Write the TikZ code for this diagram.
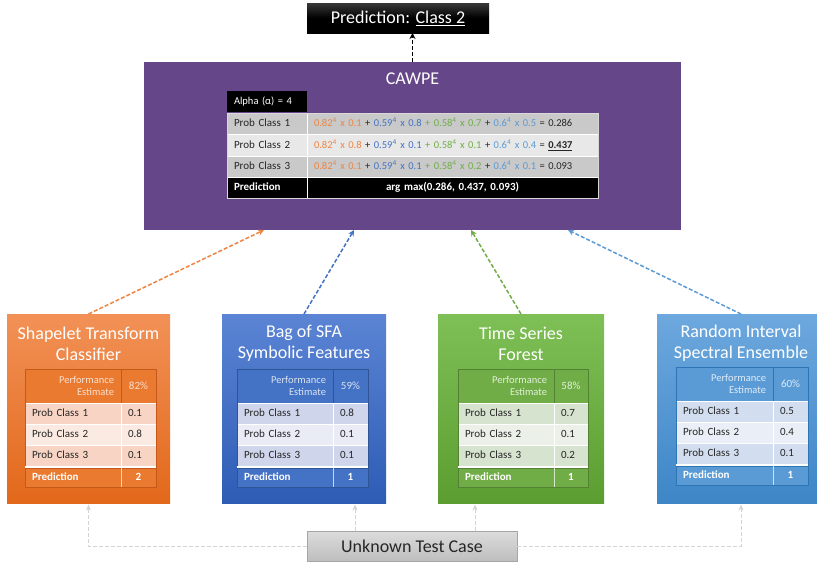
\documentclass[tikz,border=0pt]{standalone}
\usepackage{fontspec}
\setmainfont{Carlito}
\usetikzlibrary{arrows.meta}
\definecolor{txt}{HTML}{262626}
% orange
\definecolor{oA}{HTML}{F29157}
\definecolor{oB}{HTML}{E2681A}
\definecolor{oH}{HTML}{EA7A30}
\definecolor{oD}{HTML}{C4591A}
\definecolor{oT}{HTML}{FBE0CF}
\definecolor{oR}{HTML}{F8D4C4}
\definecolor{oS}{HTML}{FBEAE2}
\definecolor{oL}{HTML}{EF8440}
% blue
\definecolor{bA}{HTML}{5B84D4}
\definecolor{bB}{HTML}{2E5CB5}
\definecolor{bH}{HTML}{4472C4}
\definecolor{bD}{HTML}{2F5597}
\definecolor{bT}{HTML}{DAE3F3}
\definecolor{bR}{HTML}{CFD5EA}
\definecolor{bS}{HTML}{E9EBF5}
\definecolor{bL}{HTML}{4472C4}
% green
\definecolor{gA}{HTML}{7EC056}
\definecolor{gB}{HTML}{5B9D30}
\definecolor{gH}{HTML}{70AD47}
\definecolor{gD}{HTML}{548235}
\definecolor{gT}{HTML}{E2F0D9}
\definecolor{gR}{HTML}{D5E3CF}
\definecolor{gS}{HTML}{EBF1E9}
\definecolor{gL}{HTML}{70AD47}
% light blue
\definecolor{lA}{HTML}{6DA8DE}
\definecolor{lB}{HTML}{3E86C7}
\definecolor{lH}{HTML}{5B9BD5}
\definecolor{lD}{HTML}{2E75B6}
\definecolor{lT}{HTML}{DEEBF7}
\definecolor{lR}{HTML}{D2DEEF}
\definecolor{lS}{HTML}{EAEFF7}
\definecolor{lL}{HTML}{5B9BD5}
% others
\definecolor{purp}{HTML}{654689}
\definecolor{cwR}{HTML}{C9C9C9}
\definecolor{cwS}{HTML}{E8E8E8}
\definecolor{tcA}{HTML}{DCDCDC}
\definecolor{tcB}{HTML}{BEBEBE}
\definecolor{tcD}{HTML}{A6A6A6}
\definecolor{conn}{HTML}{D4D4D4}

\newcommand\fo[1]{{\color{oL}#1}}
\newcommand\fb[1]{{\color{bL}#1}}
\newcommand\fg[1]{{\color{gL}#1}}
\newcommand\fl[1]{{\color{lL}#1}}
\newcommand\sq{\textsuperscript{4}}

\newcommand\cellat[7]{%
  \pgfmathsetmacro\cw{#4-#2}%
  \pgfmathsetmacro\ch{#5-#3}%
  \pgfmathsetmacro\tw{#4-#2-14}%
  \node[cellbase,minimum width=\cw pt,minimum height=\ch pt,text width=\tw pt,#6] (#1) at (#2,#3) {#7};%
}

\newcommand\clfbox[6]{% name, colour prefix, x0, x1, title x, title
  \pgfmathsetmacro\bw{#4-#3}%
  \node[clfstyle,top color=#2A,bottom color=#2B,minimum width=\bw pt] (#1) at (#3,314) {};%
  \node[titletext] (#1title) at (#5,343.5) {#6};%
}

\newcommand\clftable[6]{% name, colour prefix, left, divider, right, top
  \pgfmathsetmacro\yA{#6+34}\pgfmathsetmacro\yB{#6+55}\pgfmathsetmacro\yC{#6+76}%
  \pgfmathsetmacro\yD{#6+97}\pgfmathsetmacro\yE{#6+99}\pgfmathsetmacro\yF{#6+118}%
  \cellat{#1h1}{#3}{#6}{#4}{\yA}{fill=#2H,draw=#2D,text=#2T,align=right,font=\fontsize{10.5}{12}\selectfont}{Performance\\Estimate}%
  \cellat{#1h2}{#4}{#6}{#5}{\yA}{fill=#2H,draw=#2D,text=#2T,align=center,one,inner xsep=2pt}{\vPerf}%
  \cellat{#1a1}{#3}{\yA}{#4}{\yB}{fill=#2R,draw=white,align=left,one}{Prob Class 1}%
  \cellat{#1a2}{#4}{\yA}{#5}{\yB}{fill=#2R,draw=white,align=left,one}{\vA}%
  \cellat{#1b1}{#3}{\yB}{#4}{\yC}{fill=#2S,draw=white,align=left,one}{Prob Class 2}%
  \cellat{#1b2}{#4}{\yB}{#5}{\yC}{fill=#2S,draw=white,align=left,one}{\vB}%
  \cellat{#1c1}{#3}{\yC}{#4}{\yD}{fill=#2R,draw=white,align=left,one}{Prob Class 3}%
  \cellat{#1c2}{#4}{\yC}{#5}{\yD}{fill=#2R,draw=white,align=left,one}{\vC}%
  \cellat{#1p1}{#3}{\yE}{#4}{\yF}{fill=#2H,draw=#2D,text=white,align=left,one,font=\fontsize{11}{13}\selectfont\bfseries}{Prediction}%
  \cellat{#1p2}{#4}{\yE}{#5}{\yF}{fill=#2H,draw=#2D,text=white,align=center,one,font=\fontsize{11}{13}\selectfont\bfseries}{\vPred}%
  \draw[#2D,line width=0.7pt] (#1h1.north west) rectangle (#1p2.south east);%
  \draw[white,line width=2.2pt] ([yshift=-1pt]#1c1.south west) -- ([yshift=-1pt]#1c2.south east);%
  \draw[white!70!#2H,line width=0.8pt] (#1p1.north east) -- (#1p1.south east);%
}

\begin{document}
\begin{tikzpicture}[x=1pt,y=-1pt,
  cellbase/.style={anchor=north west,inner xsep=7pt,inner ysep=0pt,outer sep=0pt,
    font=\fontsize{11}{13}\selectfont,text=txt},
  one/.style={text height=8.2pt,text depth=1.6pt},
  formula/.style={font=\fontsize{10.5}{13}\selectfont},
  clfstyle/.style={anchor=north west,minimum height=189pt,inner sep=0pt,outer sep=0pt},
  titletext/.style={text=white,font=\fontsize{18}{21}\selectfont,align=center,inner sep=0pt},
  upconn/.style={line width=1.5pt,dash pattern=on 4pt off 2pt,-{Stealth[length=6pt,width=6pt]}},
  botconn/.style={conn,line width=1pt,dash pattern=on 4pt off 2pt,-{Stealth[length=6pt,width=5pt]},shorten >=1.5pt},
]
\useasboundingbox (0,0) rectangle (817,563);
\clip (0,0) rectangle (817,563);
\fill[white] (0,0) rectangle (817,563);

% prediction box
\node[anchor=north west,minimum width=182pt,minimum height=30pt,inner sep=0pt,outer sep=0pt,
  top color=black!78,bottom color=black,middle color=black,
  text=white,font=\fontsize{18}{21}\selectfont] (pred) at (307,3) {Prediction: \underline{Class 2}};

% CAWPE box
\node[anchor=north west,minimum width=537pt,minimum height=168pt,inner sep=0pt,outer sep=0pt,fill=purp] (cawpe) at (144,62) {};
\node[titletext] (cawpetitle) at (412.5,79) {CAWPE};

% CAWPE table
\cellat{alpha}{227}{91}{307}{112}{fill=black,text=white,align=left,one,font=\fontsize{10.5}{13}\selectfont}{Alpha (α) = 4}
\cellat{r1a}{227}{113}{307}{134}{fill=cwR,draw=white,align=left,one}{Prob Class 1}
\cellat{r1b}{307}{113}{598}{134}{fill=cwR,draw=white,align=left,one,formula}{\fo{0.82\sq{} x 0.1} + \fb{0.59\sq{} x 0.8} \fg{+ 0.58\sq{} x 0.7} + \fl{0.6\sq{} x 0.5} = 0.286}
\cellat{r2a}{227}{134}{307}{156}{fill=cwS,draw=white,align=left,one}{Prob Class 2}
\cellat{r2b}{307}{134}{598}{156}{fill=cwS,draw=white,align=left,one,formula}{\fo{0.82\sq{} x 0.8} + \fb{0.59\sq{} x 0.1} \fg{+ 0.58\sq{} x 0.1} + \fl{0.6\sq{} x 0.4} = \underline{\textbf{0.437}}}
\cellat{r3a}{227}{156}{307}{177}{fill=cwR,draw=white,align=left,one}{Prob Class 3}
\cellat{r3b}{307}{156}{598}{177}{fill=cwR,draw=white,align=left,one,formula}{\fo{0.82\sq{} x 0.1} + \fb{0.59\sq{} x 0.1} \fg{+ 0.58\sq{} x 0.2} + \fl{0.6\sq{} x 0.1} = 0.093}
\cellat{r4a}{227}{177}{307}{198}{fill=black,draw=white,text=white,align=left,one,font=\fontsize{11}{13}\selectfont\bfseries}{Prediction}
\cellat{r4b}{307}{177}{598}{198}{fill=black,draw=white,text=white,align=center,one,font=\fontsize{11}{13}\selectfont\bfseries}{arg max(0.286, 0.437, 0.093)}
\draw[black!15,line width=0.6pt] (r1a.north west) rectangle (r4b.south east);

% classifier boxes
\clfbox{stc}{o}{7}{170}{88.5}{Shapelet Transform\\Classifier}
\clfbox{boss}{b}{222}{386}{304}{Bag of SFA\\Symbolic Features}
\clfbox{tsf}{g}{438}{604}{521}{Time Series\\Forest}
\clfbox{rise}{l}{657}{825}{741}{Random Interval\\Spectral Ensemble}

\def\vPerf{82\%}\def\vA{0.1}\def\vB{0.8}\def\vC{0.1}\def\vPred{2}
\clftable{stc}{o}{25}{121}{156}{369}
\def\vPerf{59\%}\def\vA{0.8}\def\vB{0.1}\def\vC{0.1}\def\vPred{1}
\clftable{boss}{b}{237}{333}{368}{369}
\def\vPerf{58\%}\def\vA{0.7}\def\vB{0.1}\def\vC{0.2}\def\vPred{1}
\clftable{tsf}{g}{458}{554}{588}{369}
\def\vPerf{60\%}\def\vA{0.5}\def\vB{0.4}\def\vC{0.1}\def\vPred{1}
\clftable{rise}{l}{676}{773}{808}{367}

% unknown test case
\node[anchor=north west,minimum width=210pt,minimum height=30pt,inner sep=0pt,outer sep=0pt,
  top color=tcA,bottom color=tcB,draw=tcD,text=txt,font=\fontsize{18}{21}\selectfont] (unk) at (307,531) {Unknown Test Case};

% connectors
\draw[upconn,black,line width=1.2pt] (cawpe.north) -- (cawpe.north |- pred.south);
\draw[upconn,oL] (stc.north) -- ([xshift=120pt]cawpe.south west);
\draw[upconn,bL] (boss.north) -- ([xshift=210pt]cawpe.south west);
\draw[upconn,gL] (tsf.north) -- ([xshift=327pt]cawpe.south west);
\draw[upconn,lL] (rise.north) -- ([xshift=424pt]cawpe.south west);

\draw[botconn] (unk.west) -| (stc.south);
\draw[botconn] (unk.east) -| (rise.south);
\draw[botconn] ([xshift=48pt]unk.north west) -- ([xshift=48pt]unk.north west |- boss.south);
\draw[botconn] ([xshift=168pt]unk.north west) -- ([xshift=168pt]unk.north west |- tsf.south);
\end{tikzpicture}
\end{document}
